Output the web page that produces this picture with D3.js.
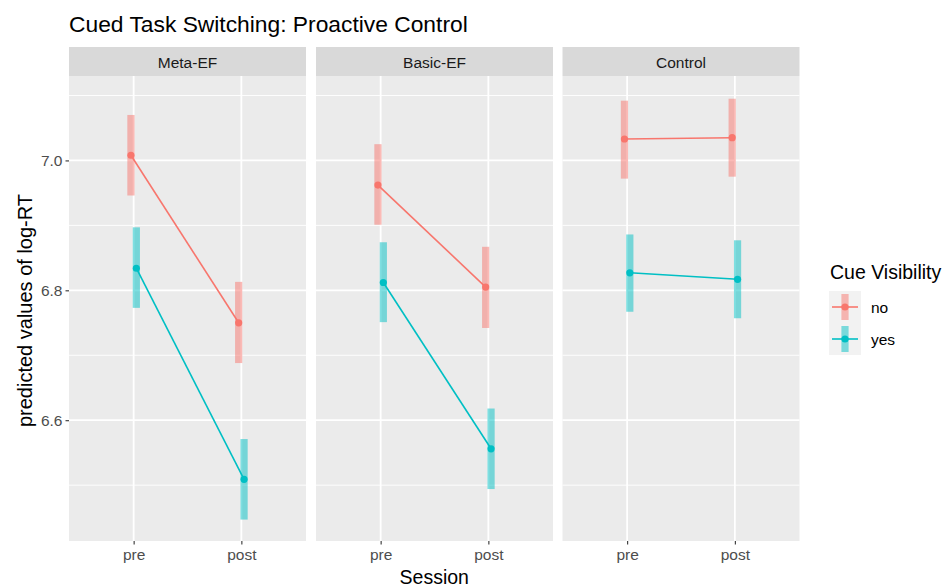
<!DOCTYPE html>
<html lang="en">
<head>
<meta charset="UTF-8">
<title>Cued Task Switching: Proactive Control</title>
<script src="https://cdn.jsdelivr.net/npm/d3@7"></script>
<style>
  body { margin: 0; background: #fff; }
  svg { font-family: "Liberation Sans", Arial, sans-serif; }
</style>
</head>
<body>
<div id="chart"></div>
<script>
// facets, sessions and cue levels
const groups = ['Meta-EF', 'Basic-EF', 'Control'];
const sessions = ['pre', 'post'];
const cues = ['no', 'yes'];
const yTicks = [6.6, 6.8, 7.0];
const yMinor = [6.5, 6.7, 6.9, 7.1];

// predicted log-RT, order: [group][session]
const predNo  = [[7.008, 6.750], [6.962, 6.805], [7.033, 7.035]];
const lowNo   = [[6.946, 6.688], [6.901, 6.742], [6.972, 6.975]];
const highNo  = [[7.070, 6.813], [7.025, 6.867], [7.092, 7.095]];
const predYes = [[6.834, 6.509], [6.812, 6.556], [6.827, 6.817]];
const lowYes  = [[6.773, 6.447], [6.751, 6.494], [6.767, 6.757]];
const highYes = [[6.897, 6.571], [6.874, 6.618], [6.886, 6.877]];

const colors = { no: '#F8766D', yes: '#00BFC4' };

const width = 946, height = 587;
const panelLeft = [69, 316, 562.5];
const panelW = 237;
const stripTop = 47, panelTop = 76, panelBottom = 541;
const fontFam = '"Liberation Sans", Arial, sans-serif';

const svg = d3.select('#chart').append('svg')
    .attr('width', width)
    .attr('height', height);

const y = d3.scaleLinear().domain([6.414, 7.130]).range([panelBottom, panelTop]);
const x = d3.scalePoint().domain(sessions).range([0, panelW]).padding(0.6);
const dodge = x.step() * 0.025;

// title
svg.append('text')
    .attr('x', 69).attr('y', 31.5)
    .attr('font-size', 22.8)
    .attr('fill', '#000')
    .text('Cued Task Switching: Proactive Control');

groups.forEach((g, gi) => {
    const p = svg.append('g').attr('transform', `translate(${panelLeft[gi]},0)`);

    // strip
    p.append('rect')
        .attr('x', 0).attr('y', stripTop)
        .attr('width', panelW).attr('height', panelTop - stripTop)
        .attr('fill', '#D9D9D9');
    p.append('text')
        .attr('x', panelW / 2).attr('y', 67.5)
        .attr('text-anchor', 'middle')
        .attr('font-size', 15.5)
        .attr('fill', '#1A1A1A')
        .text(g);

    // panel background and grid
    p.append('rect')
        .attr('x', 0).attr('y', panelTop)
        .attr('width', panelW).attr('height', panelBottom - panelTop)
        .attr('fill', '#EBEBEB');
    p.selectAll('.minor').data(yMinor).join('line')
        .attr('x1', 0).attr('x2', panelW)
        .attr('y1', d => y(d)).attr('y2', d => y(d))
        .attr('stroke', '#fff').attr('stroke-width', 0.9);
    p.selectAll('.major').data(yTicks).join('line')
        .attr('x1', 0).attr('x2', panelW)
        .attr('y1', d => y(d)).attr('y2', d => y(d))
        .attr('stroke', '#fff').attr('stroke-width', 1.8);
    p.selectAll('.vgrid').data(sessions).join('line')
        .attr('x1', d => x(d)).attr('x2', d => x(d))
        .attr('y1', panelTop).attr('y2', panelBottom)
        .attr('stroke', '#fff').attr('stroke-width', 1.8);

    // x axis
    const xAxis = p.append('g')
        .attr('transform', `translate(0,${panelBottom})`)
        .call(d3.axisBottom(x).tickSize(3.5).tickPadding(4));
    xAxis.select('.domain').remove();
    xAxis.selectAll('line').attr('stroke', '#333').attr('stroke-width', 1.1);
    xAxis.selectAll('text')
        .attr('font-size', 15.5)
        .attr('fill', '#4D4D4D')
        .attr('font-family', fontFam);

    // series
    const series = [
        { cue: 'no', pred: predNo[gi], low: lowNo[gi], high: highNo[gi], off: -dodge },
        { cue: 'yes', pred: predYes[gi], low: lowYes[gi], high: highYes[gi], off: dodge }
    ];
    series.forEach(s => {
        const pts = sessions.map((ss, si) => ({
            x: x(ss) + s.off, v: s.pred[si], lo: s.low[si], hi: s.high[si]
        }));
        p.selectAll(null).data(pts).join('rect')
            .attr('x', d => d.x - 3.6)
            .attr('width', 7.2)
            .attr('y', d => y(d.hi))
            .attr('height', d => y(d.lo) - y(d.hi))
            .attr('fill', colors[s.cue])
            .attr('opacity', 0.5);
        p.append('path')
            .datum(pts)
            .attr('d', d3.line().x(d => d.x).y(d => y(d.v)))
            .attr('fill', 'none')
            .attr('stroke', colors[s.cue])
            .attr('stroke-width', 1.6);
        p.selectAll(null).data(pts).join('circle')
            .attr('cx', d => d.x)
            .attr('cy', d => y(d.v))
            .attr('r', 3.6)
            .attr('fill', colors[s.cue]);
    });
});

// y axis on first panel
const yAxis = svg.append('g')
    .attr('transform', `translate(${panelLeft[0]},0)`)
    .call(d3.axisLeft(y).tickValues(yTicks).tickFormat(d3.format('.1f')).tickSize(3.5).tickPadding(3));
yAxis.select('.domain').remove();
yAxis.selectAll('line').attr('stroke', '#333').attr('stroke-width', 1.1);
yAxis.selectAll('text')
    .attr('font-size', 15.5)
    .attr('fill', '#4D4D4D')
    .attr('font-family', fontFam);

// axis titles
svg.append('text')
    .attr('transform', `translate(31.5,${(panelTop + panelBottom) / 2 + 2}) rotate(-90)`)
    .attr('text-anchor', 'middle')
    .attr('font-size', 20)
    .text('predicted values of log-RT');
svg.append('text')
    .attr('x', (panelLeft[0] + panelLeft[2] + panelW) / 2)
    .attr('y', 584)
    .attr('text-anchor', 'middle')
    .attr('font-size', 19.5)
    .text('Session');

// legend
const legend = svg.append('g').attr('transform', 'translate(829,0)');
legend.append('text')
    .attr('x', 1).attr('y', 278.5)
    .attr('font-size', 19.5)
    .text('Cue Visibility');
cues.forEach((c, i) => {
    const top = 291 + i * 32;
    const k = legend.append('g');
    k.append('rect')
        .attr('x', 0).attr('y', top)
        .attr('width', 32).attr('height', 32)
        .attr('fill', '#F2F2F2');
    k.append('rect')
        .attr('x', 16 - 3.6).attr('y', top + 3)
        .attr('width', 7.2).attr('height', 26)
        .attr('fill', colors[c])
        .attr('opacity', 0.5);
    k.append('line')
        .attr('x1', 3).attr('x2', 29)
        .attr('y1', top + 16).attr('y2', top + 16)
        .attr('stroke', colors[c]).attr('stroke-width', 1.6);
    k.append('circle')
        .attr('cx', 16).attr('cy', top + 16)
        .attr('r', 3.6)
        .attr('fill', colors[c]);
    k.append('text')
        .attr('x', 42).attr('y', top + 21.5)
        .attr('font-size', 15.5)
        .text(c);
});
</script>
</body>
</html>
